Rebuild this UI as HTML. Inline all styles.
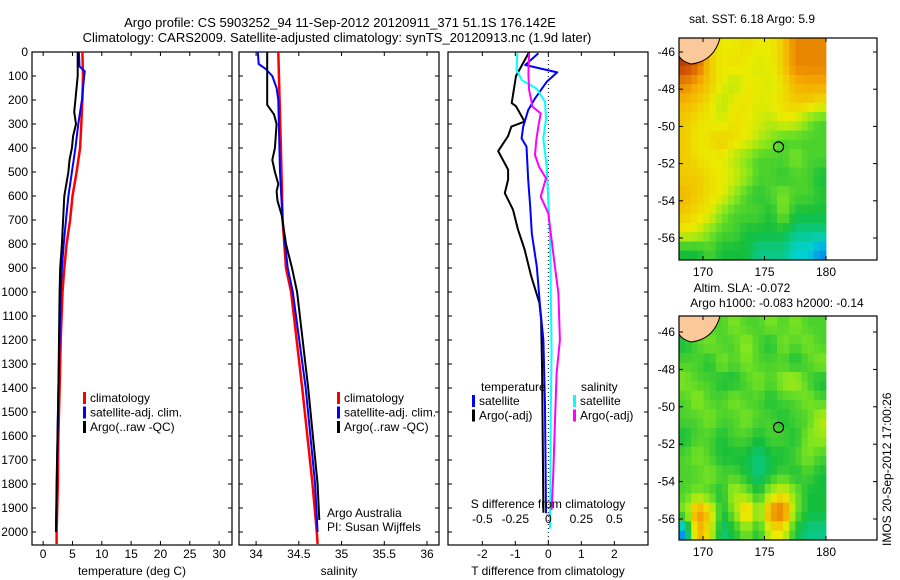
<!DOCTYPE html>
<html><head><meta charset="utf-8"><style>
html,body{margin:0;padding:0;background:#fff;}
svg{display:block;font-family:"Liberation Sans",sans-serif;}
</style></head><body>
<svg id="c" width="900" height="580" xmlns="http://www.w3.org/2000/svg">
<text x="340" y="27" font-size="13" text-anchor="middle">Argo profile: CS 5903252_94 11-Sep-2012 20120911_371 51.1S 176.142E</text>
<text x="337" y="42" font-size="13" text-anchor="middle">Climatology: CARS2009. Satellite-adjusted climatology: synTS_20120913.nc (1.9d later)</text>
<text x="752" y="23" font-size="12" text-anchor="middle">sat. SST: 6.18 Argo: 5.9</text>
<text x="742" y="292" font-size="12" text-anchor="middle">Altim. SLA: -0.072</text>
<text x="777" y="307" font-size="12" text-anchor="middle">Argo h1000: -0.083 h2000: -0.14</text>
<text transform="translate(891,546) rotate(-90)" font-size="12">IMOS 20-Sep-2012 17:00:26</text>
</svg>
<script>
// ---- data ----
const depthTicks=[0,100,200,300,400,500,600,700,800,900,1000,1100,1200,1300,1400,1500,1600,1700,1800,1900,2000];
const tTicks=[0,5,10,15,20,25,30];
const sTicks=[34,34.5,35,35.5,36];
const dTTicks=[-2,-1,0,1,2];
const dSTicks=[-0.5,-0.25,0,0.25,0.5];
const dSTickLabels=["-0.5","-0.25","0","0.25","0.5"];

const tClimDepth=[0,100,200,300,400,500,600,700,800,900,1000,1200,1400,1600,1800,2000,2050];
const tClim=[6.7,6.8,6.7,6.5,6.3,5.7,5.0,4.6,4.0,3.6,3.3,3.0,2.8,2.6,2.5,2.3,2.3];
const tSatDepth=[0,60,80,100,200,300,400,500,600,700,800,900,1000,1400,2000];
const tSat=[6.1,6.2,7.1,7.0,6.6,6.0,5.5,4.9,4.3,3.9,3.5,3.2,3.0,2.6,2.2];
const tArgoDepth=[0,100,200,250,300,350,400,450,500,600,700,800,900,1000,1400,1800,2000];
const tArgo=[5.9,5.9,5.5,5.3,5.6,5.1,4.9,4.5,4.3,3.6,3.4,3.2,2.9,2.8,2.6,2.3,2.2];

const sClimDepth=[0,400,700,900,1000,1400,1500,1800,2000,2050];
const sClim=[34.26,34.29,34.31,34.35,34.41,34.54,34.57,34.66,34.71,34.72];
const sSatDepth=[0,50,70,100,150,200,500,700,900,1000,1400,1800,2000];
const sSat=[34.02,34.03,34.11,34.19,34.24,34.26,34.28,34.31,34.37,34.43,34.58,34.69,34.72];
const sArgoDepth=[0,100,220,260,300,400,450,500,550,580,620,680,800,900,1000,1400,1800,1950];
const sArgo=[34.13,34.13,34.13,34.21,34.24,34.22,34.19,34.22,34.26,34.24,34.25,34.30,34.35,34.42,34.48,34.61,34.72,34.74];

const dTArgoDepth=[0,100,213,226,290,311,350,413,490,532,588,657,740,823,934,1045,1115,1323,1920];
const dTArgo=[-0.58,-0.98,-1.11,-0.98,-0.72,-1.12,-1.22,-1.52,-1.22,-1.22,-1.32,-1.07,-0.92,-0.72,-0.52,-0.27,-0.22,-0.19,-0.15];
const dTSatDepth=[5,54,85,124,193,242,311,360,394,533,644,756,894,1061,1200,1478,1922];
const dTSat=[-0.30,-0.70,0.27,-0.05,-0.40,-0.61,-0.76,-0.81,-0.66,-0.61,-0.55,-0.50,-0.35,-0.25,-0.15,-0.10,-0.07];
const dSSatDepth=[5,74,118,153,208,278,361,472,625,764,972,1250,1528,1986];
const dSSat=[-0.235,-0.24,-0.20,-0.088,-0.025,-0.018,-0.038,-0.013,0,0.013,0.018,0.025,0.018,0.013];
const dSArgoDepth=[5,89,158,228,256,311,367,429,478,526,603,672,783,894,1006,1200,1339,1547,1756,1908];
const dSArgo=[-0.146,-0.151,-0.146,-0.12,-0.058,-0.076,-0.091,-0.101,-0.071,-0.018,-0.058,0,0.025,0.05,0.076,0.088,0.063,0.05,0.038,0.025];

const sstGrid=[
[0.95,0.9,0.75,0.7,0.7,0.72,0.7,0.7,0.75,0.85,0.85,0.85],
[0.95,0.9,0.75,0.7,0.72,0.7,0.68,0.7,0.75,0.85,0.85,0.85],
[0.85,0.8,0.75,0.7,0.65,0.7,0.7,0.68,0.72,0.78,0.8,0.8],
[0.78,0.75,0.72,0.65,0.7,0.72,0.68,0.7,0.72,0.75,0.75,0.72],
[0.75,0.72,0.7,0.68,0.72,0.7,0.68,0.65,0.7,0.68,0.6,0.55],
[0.75,0.7,0.72,0.75,0.72,0.7,0.65,0.6,0.55,0.55,0.55,0.55],
[0.75,0.72,0.7,0.7,0.65,0.6,0.55,0.55,0.55,0.6,0.55,0.55],
[0.75,0.75,0.72,0.7,0.68,0.62,0.55,0.55,0.52,0.55,0.55,0.5],
[0.78,0.75,0.72,0.7,0.62,0.55,0.52,0.55,0.6,0.55,0.55,0.52],
[0.75,0.72,0.7,0.6,0.55,0.55,0.55,0.5,0.6,0.5,0.5,0.5],
[0.7,0.68,0.6,0.55,0.55,0.5,0.5,0.5,0.5,0.45,0.45,0.45],
[0.5,0.5,0.55,0.5,0.5,0.5,0.45,0.45,0.45,0.4,0.4,0.35]];
const slaGrid=[
[0.55,0.6,0.55,0.55,0.6,0.55,0.55,0.6,0.55,0.6,0.55,0.55],
[0.5,0.55,0.6,0.55,0.55,0.62,0.55,0.5,0.6,0.55,0.6,0.55],
[0.55,0.55,0.5,0.6,0.55,0.6,0.55,0.55,0.55,0.5,0.55,0.6],
[0.6,0.55,0.55,0.5,0.5,0.55,0.6,0.55,0.62,0.65,0.55,0.5],
[0.55,0.62,0.55,0.55,0.6,0.55,0.55,0.5,0.55,0.55,0.6,0.55],
[0.55,0.55,0.6,0.55,0.55,0.6,0.55,0.55,0.5,0.55,0.55,0.65],
[0.5,0.55,0.55,0.5,0.55,0.55,0.5,0.55,0.55,0.5,0.6,0.62],
[0.55,0.6,0.55,0.5,0.5,0.5,0.45,0.5,0.5,0.55,0.6,0.55],
[0.55,0.55,0.6,0.55,0.55,0.5,0.45,0.5,0.55,0.5,0.55,0.5],
[0.55,0.6,0.55,0.5,0.65,0.6,0.5,0.65,0.7,0.6,0.5,0.5],
[0.6,0.85,0.75,0.5,0.6,0.8,0.6,0.85,0.9,0.6,0.5,0.5],
[0.35,0.8,0.7,0.45,0.5,0.6,0.5,0.7,0.7,0.5,0.45,0.45]];

// ---- drawing ----
const svg=document.getElementById('c');
const NS='http://www.w3.org/2000/svg';
function mk(tag,attrs,parent){const e=document.createElementNS(NS,tag);for(const k in attrs)e.setAttribute(k,attrs[k]);(parent||svg).appendChild(e);return e;}
const Y0=52,PXD=0.24,YB=545;
const yD=d=>Y0+d*PXD;
const panels=[
 {x0:32,x1:232,v0:-1.9,v1:32.2,ticks:tTicks,labels:tTicks.map(String),title:'temperature (deg C)',name:'temperature-panel'},
 {x0:239,x1:439,v0:33.8,v1:36.14,ticks:sTicks,labels:sTicks.map(String),title:'salinity',name:'salinity-panel'},
 {x0:448,x1:648,v0:-3.04,v1:3.02,ticks:dTTicks,labels:dTTicks.map(String),title:'T difference from climatology',name:'difference-panel'}];
panels.forEach((p,i)=>{
 p.f=v=>p.x0+(v-p.v0)/(p.v1-p.v0)*(p.x1-p.x0);
 const g=mk('g',{});
 
 
 mk('rect',{x:p.x0,y:Y0,width:p.x1-p.x0,height:YB-Y0,fill:'none',stroke:'#000','stroke-width':1.2},g);
 depthTicks.forEach(d=>{
  mk('line',{x1:p.x0,x2:p.x0+4,y1:yD(d),y2:yD(d),stroke:'#000'},g);
  mk('line',{x1:p.x1,x2:p.x1-4,y1:yD(d),y2:yD(d),stroke:'#000'},g);
  if(i===0){const t=mk('text',{x:28,y:yD(d)+4,'font-size':12,'text-anchor':'end'},g);t.textContent=d;}
 });
 p.ticks.forEach((v,j)=>{
  const x=p.f(v);
  mk('line',{x1:x,x2:x,y1:Y0,y2:Y0+4,stroke:'#000'},g);
  mk('line',{x1:x,x2:x,y1:YB,y2:YB-4,stroke:'#000'},g);
  const t=mk('text',{x:x,y:558,'font-size':12,'text-anchor':'middle'},g);t.textContent=p.labels[j];
 });
 const tt=mk('text',{x:(p.x0+p.x1)/2,y:575,'font-size':12,'text-anchor':'middle'},g);tt.textContent=p.title;
});
function line(xs,ds,f,color,w,name){
 const pts=xs.map((v,i)=>f(v).toFixed(1)+','+yD(ds[i]).toFixed(1)).join(' ');
 const e=mk('polyline',{points:pts,fill:'none',stroke:color,'stroke-width':w,'stroke-linejoin':'round'});
 
 
}
const P=panels;
line(tClim,tClimDepth,P[0].f,'#f00',2.5,'temp-climatology-line');
line(tSat,tSatDepth,P[0].f,'#00f',2,'temp-satellite-line');
line(tArgo,tArgoDepth,P[0].f,'#000',2,'temp-argo-line');
line(sClim,sClimDepth,P[1].f,'#f00',2.5,'sal-climatology-line');
line(sSat,sSatDepth,P[1].f,'#00f',2,'sal-satellite-line');
line(sArgo,sArgoDepth,P[1].f,'#000',2,'sal-argo-line');
const fS=v=>P[2].f(v*4);
mk('line',{x1:P[2].f(0),x2:P[2].f(0),y1:Y0,y2:YB,stroke:'#000','stroke-dasharray':'1,3'});
line(dTArgo,dTArgoDepth,P[2].f,'#000',2,'dT-argo-line');
line(dTSat,dTSatDepth,P[2].f,'#00f',2,'dT-satellite-line');
line(dSSat,dSSatDepth,fS,'#0ff',2,'dS-satellite-line');
line(dSArgo,dSArgoDepth,fS,'#f0f',2,'dS-argo-line');
dSTicks.forEach((v,j)=>{const t=mk('text',{x:fS(v),y:523,'font-size':12,'text-anchor':'middle'});t.textContent=dSTickLabels[j];});
{const t=mk('text',{x:548,y:508,'font-size':12,'text-anchor':'middle'});t.textContent='S difference from climatology';}
function legend(x,y,items){items.forEach((it,i)=>{
 mk('rect',{x:x,y:y+i*14.5-10,width:3,height:12,fill:it[1]});
 const t=mk('text',{x:x+7,y:y+i*14.5,'font-size':12});t.textContent=it[0];
 
 
});}
legend(83,402,[['climatology','#f00'],['satellite-adj. clim.','#00f'],['Argo(..raw -QC)','#000']]);
legend(337,402,[['climatology','#f00'],['satellite-adj. clim.','#00f'],['Argo(..raw -QC)','#000']]);
{const t=mk('text',{x:481,y:391,'font-size':12});t.textContent='temperature';}
{const t=mk('text',{x:581,y:391,'font-size':12});t.textContent='salinity';}
legend(472,405,[['satellite','#00f'],['Argo(-adj)','#000']]);
legend(573,405,[['satellite','#0ff'],['Argo(-adj)','#f0f']]);
{const t=mk('text',{x:327,y:517,'font-size':12});t.textContent='Argo Australia';}
{const t=mk('text',{x:327,y:531,'font-size':12});t.textContent='PI: Susan Wijffels';}
// maps
const stops=[[0.3,[0,90,255]],[0.4,[0,210,210]],[0.5,[20,190,60]],[0.6,[130,230,30]],[0.7,[235,235,0]],[0.8,[245,170,0]],[0.9,[220,100,0]],[1.0,[150,20,0]]];
function col(v){v=Math.max(0.3,Math.min(1,v));for(let i=1;i<stops.length;i++){if(v<=stops[i][0]){const a=stops[i-1],b=stops[i],t=(v-a[0])/(b[0]-a[0]);return 'rgb('+a[1].map((c,k)=>Math.round(c+(b[1][k]-c)*t)).join(',')+')';}}return 'rgb(150,20,0)';}
function sample(grid,fx,fy){
 const R=grid.length,C=grid[0].length;
 const x=Math.max(0,Math.min(C-1,fx*C-0.5)),y=Math.max(0,Math.min(R-1,fy*R-0.5));
 const x0=Math.floor(x),y0=Math.floor(y),x1=Math.min(C-1,x0+1),y1=Math.min(R-1,y0+1),tx=x-x0,ty=y-y0;
 return (grid[y0][x0]*(1-tx)+grid[y0][x1]*tx)*(1-ty)+(grid[y1][x0]*(1-tx)+grid[y1][x1]*tx)*ty;
}
function map(top,bot,grid,name,lat46,lat56){
 const g=mk('g',{});
 
 
 const L=679,R=877,DR=826,lx=lo=>703+(lo-170)*12.3,ly=la=>lat46+(la+46)/(-10)*(lat56-lat46);
 const NX=24,NY=24,cw=(DR-L)/NX,ch=(bot-top)/NY;
 for(let r=0;r<NY;r++)for(let c=0;c<NX;c++)
  mk('rect',{x:L+c*cw,y:top+r*ch,width:cw+0.4,height:ch+0.4,fill:col(sample(grid,(c+0.5)/NX,(r+0.5)/NY))},g);
 mk('path',{d:`M${L},${top} L${L+41},${top} C${L+38},${top+12} ${L+30},${top+24} ${L+12},${top+26} C${L+6},${top+24} ${L+2},${top+22} ${L},${top+18} Z`,fill:'#fbc89a',stroke:'#000','stroke-width':1},g);
 mk('circle',{cx:lx(176.142),cy:ly(-51.1),r:5,fill:'none',stroke:'#000','stroke-width':1.2},g);
 mk('rect',{x:L,y:top,width:R-L,height:bot-top,fill:'none',stroke:'#000','stroke-width':1.2},g);
 [170,175,180].forEach(lo=>{
  mk('line',{x1:lx(lo),x2:lx(lo),y1:bot,y2:bot-4,stroke:'#000'},g);
  mk('line',{x1:lx(lo),x2:lx(lo),y1:top,y2:top+4,stroke:'#000'},g);
  const t=mk('text',{x:lx(lo),y:bot+16,'font-size':12,'text-anchor':'middle'},g);t.textContent=lo;
 });
 [-46,-48,-50,-52,-54,-56].forEach(la=>{
  mk('line',{x1:L,x2:L+4,y1:ly(la),y2:ly(la),stroke:'#000'},g);
  mk('line',{x1:R,x2:R-4,y1:ly(la),y2:ly(la),stroke:'#000'},g);
  const t=mk('text',{x:L-4,y:ly(la)+4,'font-size':12,'text-anchor':'end'},g);t.textContent=la;
 });
}
map(38,260,sstGrid,'sst-map',52,238);
map(316,540,slaGrid,'sla-map',332,519);
</script>
</body></html>
